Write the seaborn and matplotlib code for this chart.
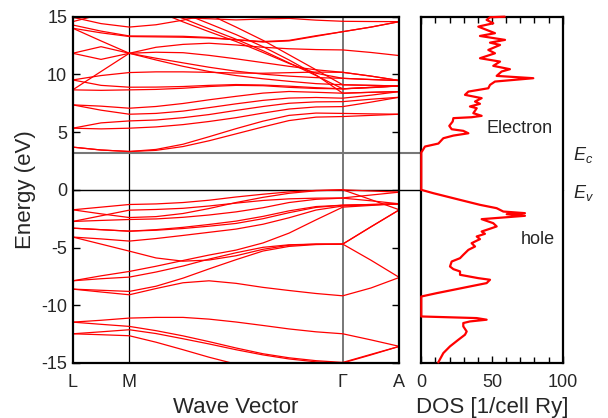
import numpy as np
import pandas as pd
import matplotlib
matplotlib.use("Agg")
import matplotlib.pyplot as plt
import seaborn as sns
from matplotlib.ticker import MultipleLocator

sns.set_theme(style="white")
plt.rcParams["font.family"] = ["Liberation Sans", "DejaVu Sans"]
plt.rcParams["mathtext.fontset"] = "custom"
plt.rcParams["mathtext.it"] = "Liberation Sans:italic"
plt.rcParams["mathtext.rm"] = "Liberation Sans"
plt.rcParams["axes.unicode_minus"] = False

# ---------------- data ----------------
k_path = [0.0, 28.3, 56.6, 83.3, 110.3, 136.3, 163.3, 190.3, 216.3, 243.3, 270.0, 298.3, 326.6]
k_tick_pos = [0.0, 56.6, 270.0, 326.6]
k_tick_labels = ["L", "M", "Γ", "A"]
E_c = 3.23
E_v = 0.0
nan = np.nan

valence_upper = [
    [-1.73, -1.50, -1.27, -1.22, -1.10, -0.90, -0.62, -0.38, -0.18, -0.05, 0.00, -0.10, -0.20],
    [-1.73, -2.08, -2.40, -2.32, -2.05, -1.62, -1.10, -0.65, -0.30, -0.08, 0.00, -0.85, -1.73],
    [-2.74, -2.25, -1.76, -1.70, -1.60, -1.40, -1.15, -0.92, -0.78, -0.72, -0.70, -0.45, -0.20],
    [-2.74, -2.65, -2.57, -2.52, -2.38, -2.18, -1.91, -1.55, -1.10, -0.82, -0.72, -0.95, -1.21],
    [-3.32, -3.45, -3.58, -3.45, -3.25, -3.00, -2.71, -2.30, -1.82, -1.45, -1.33, -1.27, -1.21],
    [-3.32, -3.45, -3.58, -3.50, -3.35, -3.15, -2.91, -2.50, -1.98, -1.52, -1.33, -1.27, -1.21],
    [-4.09, -4.25, -4.44, -4.22, -3.95, -3.68, -3.40, -2.98, -2.42, -1.75, -1.40, -1.30, -1.21],
    [-4.09, -4.70, -5.31, -5.90, -6.18, -6.08, -5.71, -5.15, -4.80, -4.70, -4.70, -3.20, -1.73],
]
valence_middle = [
    [-7.88, -7.45, -7.07, -6.62, -6.12, -5.65, -5.22, -4.60, -3.75, -2.60, -1.50, -1.35, -1.21],
    [-7.88, -7.70, -7.56, -7.12, -6.60, -6.00, -5.45, -4.98, -4.76, -4.70, -4.70, -6.10, -7.59],
    [-8.60, -8.70, -8.80, -8.35, -7.65, -6.85, -6.05, -5.30, -4.90, -4.74, -4.70, -3.20, -1.73],
    [-8.60, -8.85, -9.09, -8.55, -8.05, -7.88, -8.10, -8.45, -8.72, -8.98, -9.18, -8.50, -7.59],
]
valence_lower = [
    [-11.46, -11.30, -11.11, -11.05, -11.05, -11.20, -11.45, -11.75, -12.05, -12.30, -12.47, -13.00, -13.56],
    [-11.46, -11.65, -11.83, -12.20, -12.65, -13.15, -13.70, -14.20, -14.55, -14.80, -14.95, -14.25, -13.56],
    [-12.47, -12.30, -12.12, -12.45, -12.90, -13.35, -13.85, -14.30, -14.65, -14.90, -15.00, -14.30, -13.56],
    [-12.47, -12.55, -12.64, -13.20, -13.85, -14.50, -15.10, nan, nan, nan, nan, nan, nan],
]
conduction_lower = [
    [3.70, 3.45, 3.32, 3.42, 3.75, 4.25, 4.85, 5.45, 6.00, 6.30, 6.35, 6.45, 6.55],
    [3.70, 3.45, 3.32, 3.50, 3.95, 4.60, 5.30, 5.95, 6.45, 6.65, 6.62, 6.58, 6.55],
    [5.34, 5.28, 5.34, 5.45, 5.65, 5.92, 6.25, 6.65, 7.00, 7.18, 7.21, 7.60, 8.02],
    [5.34, 5.80, 5.97, 6.05, 6.25, 6.52, 6.88, 7.22, 7.50, 7.62, 7.64, 7.85, 8.02],
    [7.36, 6.90, 6.55, 6.62, 6.82, 7.12, 7.45, 7.75, 7.95, 8.00, 7.94, 8.20, 8.51],
    [7.36, 7.25, 7.07, 7.22, 7.48, 7.80, 8.10, 8.38, 8.52, 8.45, 8.37, 8.45, 8.51],
    [8.66, 8.62, 8.66, 8.70, 8.80, 8.95, 9.05, 9.02, 8.88, 8.78, 8.75, 8.85, 9.00],
    [9.52, 9.05, 8.89, 8.90, 8.95, 9.05, 9.12, 9.08, 8.98, 8.85, 8.75, 8.88, 9.00],
]
conduction_upper = [
    [8.66, 10.25, 11.83, 12.35, 12.60, 12.70, 12.55, 12.35, 12.22, 12.15, 12.12, 11.90, 11.63],
    [11.83, 12.40, 11.83, 11.40, 11.00, 10.62, 10.28, 10.02, 9.85, 9.72, 9.66, 9.56, 9.47],
    [11.83, 11.30, 11.83, 11.92, 11.88, 11.65, 11.35, 11.02, 10.70, 10.40, 10.18, 9.85, 9.47],
    [14.00, 12.90, 11.83, 11.25, 10.70, 10.25, 9.90, 9.62, 9.40, 9.20, 9.10, 9.05, 9.00],
    [9.52, 9.90, 10.16, 10.22, 10.22, 10.18, 10.12, 10.10, 10.15, 10.20, 10.18, 9.85, 9.47],
    [14.00, 13.60, 13.28, 13.25, 13.22, 13.15, 13.00, 12.80, 12.90, 13.30, 13.70, 14.10, 14.57],
    [14.28, 13.75, 13.33, 13.32, 13.30, 13.20, 13.00, 12.85, 12.95, 13.35, 13.70, 14.10, 14.57],
    [14.57, 15.20, nan, nan, nan, nan, nan, nan, nan, nan, nan, nan, nan],
    [14.95, 14.40, 14.10, 14.30, 14.70, 15.20, nan, nan, nan, nan, nan, nan, nan],
]
conduction_steep = [
    [nan, nan, nan, 15.20, 14.90, 14.82, 14.72, 14.80, 14.85, 14.70, 14.60, 14.58, 14.57],
    [nan, nan, nan, 15.50, 14.55, 13.70, 12.85, 11.90, 10.95, 10.10, 9.66, 9.55, 9.47],
    [nan, nan, nan, 15.80, 14.85, 13.95, 13.05, 12.05, 11.00, 9.90, 8.75, 8.88, 9.00],
    [nan, nan, nan, nan, 15.30, 14.40, 13.45, 12.40, 11.25, 9.95, 8.37, 8.45, 8.51],
    [nan, nan, nan, nan, nan, 15.20, 14.10, 12.95, 11.70, 10.40, 9.10, 9.05, 9.00],
]

dos_energy = [-14.95, -14.14, -13.56, -12.99, -12.55, -12.27, -11.83, -11.54, -11.40, -11.25,
              -11.11, -10.97, -9.24, -8.95, -8.66, -8.37, -8.08, -7.79, -7.65, -7.36,
              -7.07, -6.87, -6.64, -6.21, -5.92, -5.63, -5.20, -4.91, -4.62, -4.27,
              -4.04, -3.81, -3.61, -3.32, -3.17, -2.89, -2.54, -2.25, -2.11, -2.02,
              -1.88, -1.59, -1.30, -0.87, -0.29, 0.00, 3.23, 3.75, 4.01, 4.47,
              4.70, 4.90, 5.11, 5.25, 5.54, 5.92, 6.21, 6.29, 6.41, 6.64,
              7.07, 7.22, 7.45, 7.65, 7.94, 8.23, 8.51, 8.80, 9.09, 9.38,
              9.67, 9.87, 10.25, 10.45, 10.74, 11.11, 11.40, 11.83, 12.12, 12.55,
              12.75, 12.99, 13.33, 13.57, 14.14, 14.43, 14.72, 14.95, 15.00]
dos_value = [12.0, 15.6, 20.3, 26.2, 30.9, 32.1, 29.7, 29.7, 34.4, 46.2,
             39.2, 0.0, 0.0, 10.9, 22.7, 34.4, 46.2, 48.6, 40.3, 27.4,
             27.4, 22.7, 20.3, 21.5, 27.4, 29.7, 33.3, 38.0, 35.6, 41.5,
             39.2, 45.0, 42.7, 49.8, 53.3, 50.9, 42.7, 73.3, 60.4, 73.3,
             58.0, 53.3, 41.5, 27.4, 8.5, 0.0, 0.0, 2.6, 12.1, 15.6,
             22.7, 33.3, 29.7, 21.5, 19.8, 22.2, 22.7, 35.6, 42.7, 36.8,
             39.2, 34.4, 41.5, 38.0, 42.7, 30.9, 33.3, 47.4, 48.6, 52.1,
             79.2, 53.3, 56.8, 62.7, 50.9, 55.7, 41.5, 52.1, 47.4, 55.7,
             48.6, 59.2, 41.5, 52.1, 40.3, 50.9, 46.2, 48.6, 59.0]

# ---------------- build long-form tables ----------------
rows = []
band_id = 0
for group in (valence_upper, valence_middle, valence_lower,
              conduction_lower, conduction_upper, conduction_steep):
    for band in group:
        for k, e in zip(k_path, band):
            rows.append((band_id, k, e))
        band_id += 1
bands_df = pd.DataFrame(rows, columns=["band", "k", "E"]).dropna()
dos_df = pd.DataFrame({"E": dos_energy, "DOS": dos_value})

# ---------------- figure ----------------
fig = plt.figure(figsize=(6.08, 4.18), dpi=100)
ax1 = fig.add_axes([0.1196, 0.1316, 0.5372, 0.8285])
ax2 = fig.add_axes([0.6929, 0.1316, 0.2326, 0.8285])

ax1.axvline(k_tick_pos[1], color="black", lw=0.9, zorder=1)
ax1.axvline(k_tick_pos[2], color="#777777", lw=1.4, zorder=1)
ax1.axhline(E_c, xmin=0, xmax=1.5, color="#777777", lw=1.5, clip_on=False, zorder=1)
ax1.axhline(E_v, xmin=0, xmax=1.5, color="black", lw=1.0, clip_on=False, zorder=1)

sns.lineplot(data=bands_df, x="k", y="E", units="band", estimator=None,
             color="red", lw=0.9, ax=ax1, legend=False, zorder=2)
ax1.set_xlim(k_path[0], k_path[-1])
ax1.set_ylim(-15, 15)
ax1.set_xticks(k_tick_pos)
ax1.set_xticklabels(k_tick_labels)
ax1.set_yticks(np.arange(-15, 16, 5))
ax1.tick_params(axis="y", direction="in", length=5, width=1, left=True, right=True,
                labelsize=13, pad=4, color="black")
ax1.tick_params(axis="x", length=0, labelsize=13, pad=8)
ax1.set_xlabel("Wave Vector", fontsize=16, labelpad=4)
ax1.set_ylabel("Energy (eV)", fontsize=16, labelpad=4)

sns.lineplot(data=dos_df, x="DOS", y="E", sort=False, orient="y",
             color="red", lw=1.6, ax=ax2, zorder=5)
ax2.lines[-1].set_clip_on(False)
ax2.set_xlim(0, 100)
ax2.set_ylim(-15, 15)
ax2.set_xticks([0, 50, 100])
ax2.xaxis.set_minor_locator(MultipleLocator(10))
ax2.set_yticks([])
ax2.tick_params(axis="x", which="both", direction="in", top=True, bottom=True,
                color="black", width=1)
ax2.tick_params(axis="x", which="major", length=5, labelsize=13, pad=8)
ax2.tick_params(axis="x", which="minor", length=4)
ax2.set_xlabel("DOS [1/cell Ry]", fontsize=16, labelpad=4)
ax2.set_ylabel("")

ax2.text(69.8, 5.32, "Electron", ha="center", va="center", fontsize=13)
ax2.text(82.2, -4.33, "hole", ha="center", va="center", fontsize=13)
ax2.text(107.5, 3.0, "$E_c$", ha="left", va="center", fontsize=13, clip_on=False)
ax2.text(107.5, -0.25, "$E_v$", ha="left", va="center", fontsize=13, clip_on=False)

for ax in (ax1, ax2):
    for sp in ax.spines.values():
        sp.set_visible(True)
        sp.set_color("black")
        sp.set_linewidth(1.6)

fig.savefig("out.png", dpi=100)
